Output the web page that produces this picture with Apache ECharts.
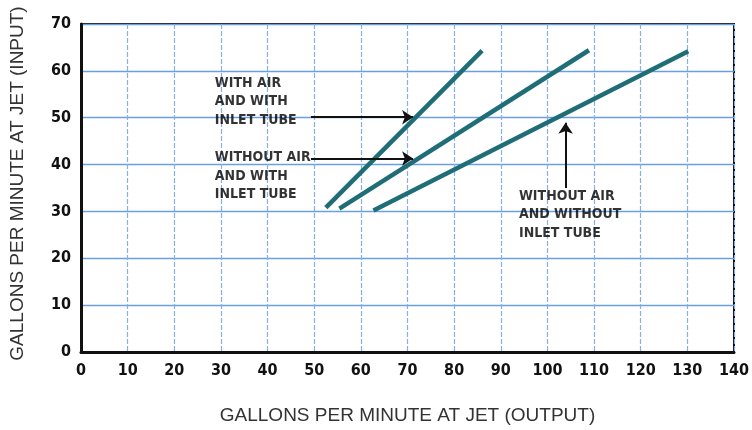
<!DOCTYPE html>
<html>
<head>
<meta charset="utf-8">
<script src="https://cdn.jsdelivr.net/npm/echarts@6/dist/echarts.min.js"></script>
<style>html,body{margin:0;padding:0;background:#fff}#c{width:752px;height:430px}</style>
</head>
<body>
<div id="c"></div>
<script>
// Data (x = output gpm, y = input gpm)
const withAirWithTube = [[52.5, 30.8], [86.0, 64.3]];
const noAirWithTube = [[55.4, 30.6], [108.9, 64.4]];
const noAirNoTube = [[62.7, 30.2], [130.2, 64.2]];

const xTicks = [0, 10, 20, 30, 40, 50, 60, 70, 80, 90, 100, 110, 120, 130, 140];
const yTicks = [0, 10, 20, 30, 40, 50, 60, 70];

const noteTexts = ['WITH AIR\nAND WITH\nINLET TUBE', 'WITHOUT AIR\nAND WITH\nINLET TUBE', 'WITHOUT AIR\nAND WITHOUT\nINLET TUBE'];
const notePos = [[28.7, 59.4], [28.7, 43.5], [93.9, 35.2]];
const arrowFrom = [[49.3, 50.1], [49.3, 41.3], [103.9, 35.0]];
const arrowTo = [[71.2, 50.1], [71.2, 41.3], [103.9, 48.9]];

const tickFont = "'DejaVu Sans Condensed', 'Liberation Sans Narrow', 'Liberation Sans', sans-serif";
const titleFont = "'Liberation Sans', Arial, sans-serif";
const lineColor = '#1f6d77';

const chart = echarts.init(document.getElementById('c'), null, {renderer: 'canvas'});
const lineSeries = (name, d) => ({
  name, type: 'line', data: d, showSymbol: false, silent: true,
  lineStyle: {color: lineColor, width: 4.5, cap: 'butt'}, z: 3
});
chart.setOption({
  animation: false,
  backgroundColor: '#fff',
  grid: {left: 78, right: 15, top: 24, bottom: 74, show: true, borderColor: '#111', borderWidth: 2},
  xAxis: {
    type: 'value', min: xTicks[0], max: xTicks[xTicks.length - 1], interval: 10,
    name: 'GALLONS PER MINUTE AT JET (OUTPUT)', nameLocation: 'middle', nameGap: 54,
    nameTextStyle: {fontFamily: titleFont, fontSize: 19, color: '#333'},
    axisLine: {lineStyle: {color: '#111', width: 3}},
    axisTick: {show: false},
    axisLabel: {margin: 11, fontFamily: tickFont, fontWeight: 'bold', fontSize: 16, color: '#111'},
    splitLine: {lineStyle: {color: '#86b0e8', width: 1.2, type: [5, 2]}}
  },
  yAxis: {
    type: 'value', min: yTicks[0], max: yTicks[yTicks.length - 1], interval: 10,
    name: 'GALLONS PER MINUTE AT JET (INPUT)', nameLocation: 'middle', nameGap: 54,
    nameTextStyle: {fontFamily: titleFont, fontSize: 19, color: '#333', padding: [0, 0, 0, 9]},
    axisLine: {lineStyle: {color: '#111', width: 3}},
    axisTick: {show: false},
    axisLabel: {margin: 10, fontFamily: tickFont, fontWeight: 'bold', fontSize: 16, color: '#111'},
    splitLine: {lineStyle: {color: '#6a9fe2', width: 1.3}}
  },
  series: [
    lineSeries('With air and with inlet tube', withAirWithTube),
    lineSeries('Without air and with inlet tube', noAirWithTube),
    lineSeries('Without air and without inlet tube', noAirNoTube),
    {
      type: 'scatter', symbolSize: 0, silent: true, z: 5,
      data: noteTexts.map((t, i) => ({name: t, value: notePos[i]})),
      label: {
        show: true, position: [0, 0], align: 'left', verticalAlign: 'top',
        formatter: p => p.name, fontFamily: tickFont, fontWeight: 'bold', fontSize: 14,
        lineHeight: 18.5, color: '#000'
      },
      markLine: {
        silent: true, symbol: ['none', 'arrow'], symbolSize: 11,
        label: {show: false},
        lineStyle: {color: '#111', width: 2, type: 'solid'},
        data: arrowFrom.map((f, i) => [{coord: f}, {coord: arrowTo[i]}])
      }
    }
  ]
});
</script>
</body>
</html>
